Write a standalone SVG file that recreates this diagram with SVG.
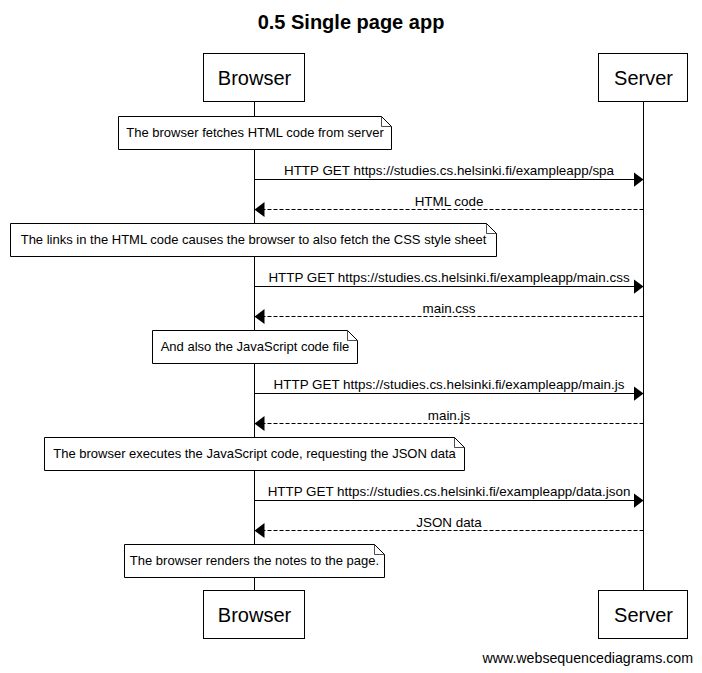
<svg xmlns="http://www.w3.org/2000/svg" width="702" height="673" viewBox="0 0 702 673">
<style>
text{font-family:"Liberation Sans",Arial,sans-serif;fill:#000}
.title{font-size:20px;font-weight:bold;text-anchor:middle}
.actor rect{fill:#fff;stroke:#000;stroke-width:1}
.actor text{font-size:20px;text-anchor:middle}
.note path.body{fill:#fff;stroke:#000;stroke-width:1}
.note path.fold{fill:none;stroke:#000;stroke-width:0.7}
.note text{font-size:13px;text-anchor:middle}
.life{stroke:#000;stroke-width:1}
.msg{stroke:#000;stroke-width:1;fill:none}
.dash{stroke-dasharray:4,2}
.lbl{font-size:13.4px;text-anchor:middle}
.foot{font-size:14.2px;text-anchor:end}
</style>
<defs>
<marker id="ah" markerWidth="10" markerHeight="15" refX="10" refY="7.5" orient="auto" markerUnits="userSpaceOnUse">
<path d="M0,0 L10,7.5 L0,15 Z" fill="#000"/>
</marker>
</defs>
<rect width="702" height="673" fill="#fff"/>
<text class="title" x="351" y="29">0.5 Single page app</text>

<g id="lifelines">
<line class="life" x1="254.5" y1="101.5" x2="254.5" y2="590.5"/>
<line class="life" x1="643.5" y1="101.5" x2="643.5" y2="590.5"/>
</g>

<g id="actor-browser-top" class="actor">
<rect x="203.5" y="53.5" width="101" height="48"/>
<text x="254.5" y="85">Browser</text>
</g>
<g id="actor-server-top" class="actor">
<rect x="598.5" y="53.5" width="89" height="48"/>
<text x="643.5" y="85">Server</text>
</g>
<g id="actor-browser-bottom" class="actor">
<rect x="203.5" y="590.5" width="101" height="48"/>
<text x="254.5" y="622">Browser</text>
</g>
<g id="actor-server-bottom" class="actor">
<rect x="598.5" y="590.5" width="89" height="48"/>
<text x="643.5" y="622">Server</text>
</g>

<g id="note1" class="note">
<path class="body" d="M118.5,116.5 H381.5 L391.5,126.5 V149.5 H118.5 Z"/>
<path class="fold" d="M381.5,116.5 V126.5 H391.5"/>
<text x="255" y="137">The browser fetches HTML code from server</text>
</g>
<g id="note2" class="note">
<path class="body" d="M10.5,223.5 H486.5 L496.5,233.5 V256.5 H10.5 Z"/>
<path class="fold" d="M486.5,223.5 V233.5 H496.5"/>
<text x="253.5" y="244">The links in the HTML code causes the browser to also fetch the CSS style sheet</text>
</g>
<g id="note3" class="note">
<path class="body" d="M152.5,330.5 H347.5 L357.5,340.5 V363.5 H152.5 Z"/>
<path class="fold" d="M347.5,330.5 V340.5 H357.5"/>
<text x="255" y="351">And also the JavaScript code file</text>
</g>
<g id="note4" class="note">
<path class="body" d="M44.5,437.5 H454.5 L464.5,447.5 V470.5 H44.5 Z"/>
<path class="fold" d="M454.5,437.5 V447.5 H464.5"/>
<text x="254.5" y="458">The browser executes the JavaScript code, requesting the JSON data</text>
</g>
<g id="note5" class="note">
<path class="body" d="M124.5,544.5 H374.5 L384.5,554.5 V577.5 H124.5 Z"/>
<path class="fold" d="M374.5,544.5 V554.5 H384.5"/>
<text x="254.5" y="565">The browser renders the notes to the page.</text>
</g>

<g id="connectors">
<line class="msg" x1="254.5" y1="179.5" x2="643.5" y2="179.5" marker-end="url(#ah)"/>
<text class="lbl" x="449" y="175">HTTP GET https://studies.cs.helsinki.fi/exampleapp/spa</text>
<line class="msg dash" x1="643.5" y1="209.5" x2="254.5" y2="209.5" marker-end="url(#ah)"/>
<text class="lbl" x="449" y="206">HTML code</text>

<line class="msg" x1="254.5" y1="286.5" x2="643.5" y2="286.5" marker-end="url(#ah)"/>
<text class="lbl" x="449" y="282">HTTP GET https://studies.cs.helsinki.fi/exampleapp/main.css</text>
<line class="msg dash" x1="643.5" y1="316.5" x2="254.5" y2="316.5" marker-end="url(#ah)"/>
<text class="lbl" x="449" y="313">main.css</text>

<line class="msg" x1="254.5" y1="393.5" x2="643.5" y2="393.5" marker-end="url(#ah)"/>
<text class="lbl" x="449" y="389">HTTP GET https://studies.cs.helsinki.fi/exampleapp/main.js</text>
<line class="msg dash" x1="643.5" y1="423.5" x2="254.5" y2="423.5" marker-end="url(#ah)"/>
<text class="lbl" x="449" y="420">main.js</text>

<line class="msg" x1="254.5" y1="500.5" x2="643.5" y2="500.5" marker-end="url(#ah)"/>
<text class="lbl" x="449" y="496">HTTP GET https://studies.cs.helsinki.fi/exampleapp/data.json</text>
<line class="msg dash" x1="643.5" y1="530.5" x2="254.5" y2="530.5" marker-end="url(#ah)"/>
<text class="lbl" x="449" y="527">JSON data</text>
</g>

<text class="foot" x="693" y="663">www.websequencediagrams.com</text>
</svg>
